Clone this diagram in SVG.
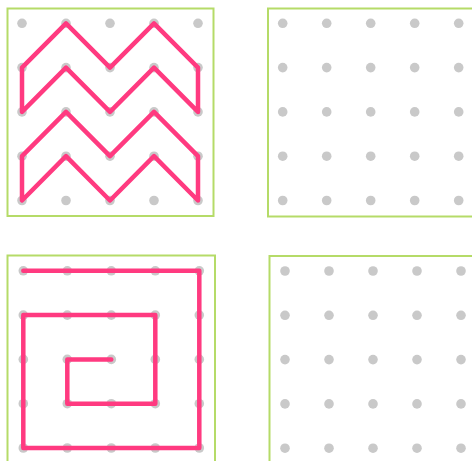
<svg xmlns="http://www.w3.org/2000/svg" width="472" height="461" viewBox="0 0 472 461">
<defs>
<style>
.frame{fill:#ffffff;stroke:#b5db68;stroke-width:2}
.dot{fill:#c9c9c9}
.line{fill:none;stroke:#ff3a80;stroke-width:4.5;stroke-linecap:round;stroke-linejoin:round}
</style>
<g id="dots">
<circle class="dot" cx="0" cy="0" r="4.8"/><circle class="dot" cx="44" cy="0" r="4.8"/><circle class="dot" cx="88" cy="0" r="4.8"/><circle class="dot" cx="132" cy="0" r="4.8"/><circle class="dot" cx="176" cy="0" r="4.8"/>
<circle class="dot" cx="0" cy="44.3" r="4.8"/><circle class="dot" cx="44" cy="44.3" r="4.8"/><circle class="dot" cx="88" cy="44.3" r="4.8"/><circle class="dot" cx="132" cy="44.3" r="4.8"/><circle class="dot" cx="176" cy="44.3" r="4.8"/>
<circle class="dot" cx="0" cy="88.6" r="4.8"/><circle class="dot" cx="44" cy="88.6" r="4.8"/><circle class="dot" cx="88" cy="88.6" r="4.8"/><circle class="dot" cx="132" cy="88.6" r="4.8"/><circle class="dot" cx="176" cy="88.6" r="4.8"/>
<circle class="dot" cx="0" cy="132.9" r="4.8"/><circle class="dot" cx="44" cy="132.9" r="4.8"/><circle class="dot" cx="88" cy="132.9" r="4.8"/><circle class="dot" cx="132" cy="132.9" r="4.8"/><circle class="dot" cx="176" cy="132.9" r="4.8"/>
<circle class="dot" cx="0" cy="177.2" r="4.8"/><circle class="dot" cx="44" cy="177.2" r="4.8"/><circle class="dot" cx="88" cy="177.2" r="4.8"/><circle class="dot" cx="132" cy="177.2" r="4.8"/><circle class="dot" cx="176" cy="177.2" r="4.8"/>
</g>
</defs>
<rect width="472" height="461" fill="#ffffff"/>
<g id="panel-top-left">
<rect class="frame" x="7.5" y="8.5" width="206" height="207.5"/>
<use href="#dots" x="22" y="23.3"/>
<path class="line" d="M22,67.6 L66,23.3 L110,67.6 L154,23.3 L198,67.6 L198,111.9 L154,67.6 L110,111.9 L66,67.6 L22,111.9 Z"/>
<path class="line" d="M22,156.2 L66,111.9 L110,156.2 L154,111.9 L198,156.2 L198,200.5 L154,156.2 L110,200.5 L66,156.2 L22,200.5 Z"/>
</g>
<g id="panel-top-right">
<rect class="frame" x="268" y="8.5" width="220" height="208"/>
<use href="#dots" x="282.7" y="23.3"/>
</g>
<g id="panel-bottom-left">
<rect class="frame" x="7.5" y="255.5" width="207.5" height="220"/>
<use href="#dots" x="23.3" y="270.8"/>
<path class="line" d="M23.3,270.8 L199.3,270.8 L199.3,448 L23.3,448 L23.3,315.1 L155.3,315.1 L155.3,403.7 L67.3,403.7 L67.3,359.4 L111.3,359.4"/>
</g>
<g id="panel-bottom-right">
<rect class="frame" x="269.5" y="256" width="220" height="220"/>
<use href="#dots" x="285" y="271"/>
</g>
</svg>
